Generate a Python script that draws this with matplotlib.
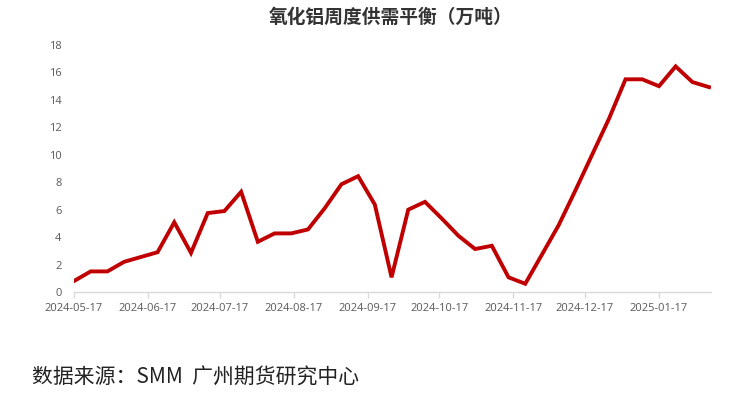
import matplotlib
matplotlib.use("Agg")
import matplotlib.pyplot as plt
import matplotlib.dates as mdates
import numpy as np
import pandas as pd

plt.rcParams['font.family'] = ['Noto Sans CJK SC', 'DejaVu Sans']

start_date = "2024-05-17"
n_weeks = 39
values = [0.8, 1.5, 1.5, 2.2, 2.55, 2.9, 5.08, 2.85, 5.75, 5.9,
          7.3, 3.66, 4.27, 4.27, 4.56, 6.1, 7.85, 8.44, 6.37, 1.07,
          6.0, 6.57, 5.36, 4.1, 3.13, 3.37, 1.07, 0.6, 2.73, 4.87,
          7.4, 10.0, 12.6, 15.5, 15.5, 15.0, 16.44, 15.3, 14.93]
tick_labels = ["2024-05-17", "2024-06-17", "2024-07-17", "2024-08-17", "2024-09-17",
               "2024-10-17", "2024-11-17", "2024-12-17", "2025-01-17"]
y_ticks = [0, 2, 4, 6, 8, 10, 12, 14, 16, 18]

title = "氧化铝周度供需平衡（万吨）"
source = "数据来源：SMM  广州期货研究中心"

dates = pd.date_range(start_date, periods=n_weeks, freq="7D")

fig = plt.figure(figsize=(7.33, 3.93), dpi=100)
ax = fig.add_axes([74/733, 1-292/393, (711-74)/733, (292-45)/393])

ax.plot(dates, values, color="#C00000", lw=2.8, solid_joinstyle="miter")

ax.set_ylim(0, 18)
ax.set_yticks(y_ticks)
ax.set_xlim(dates[0], dates[-1] + pd.Timedelta(days=0.8))
tick_dates = pd.to_datetime(tick_labels)
ax.set_xticks(tick_dates)
ax.set_xticklabels(tick_labels)

for s in ["top", "right", "left"]:
    ax.spines[s].set_visible(False)
ax.spines["bottom"].set_color("#d9d9d9")
ax.spines["bottom"].set_linewidth(1.0)

ax.tick_params(axis="y", length=0, pad=9, labelsize=8, labelcolor="#595959")
ax.tick_params(axis="x", length=4, width=1.0, color="#d9d9d9", pad=4,
               labelsize=8, labelcolor="#595959")
for lab in ax.get_xticklabels() + ax.get_yticklabels():
    lab.set_family(["Open Sans", "DejaVu Sans"])

fig.text(391/733, 1-17/393, title, ha="center", va="center",
         fontsize=13.5, fontweight="bold", color="#333333")
fig.text(32/733, 1-378/393, source, ha="left", va="center",
         fontsize=15, color="#222222")

fig.savefig("out.png", dpi=100)
